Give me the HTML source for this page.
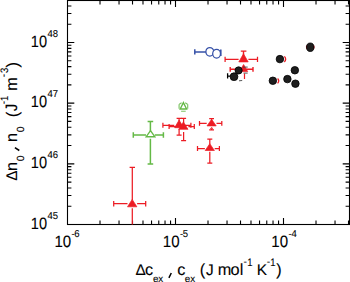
<!DOCTYPE html>
<html><head><meta charset="utf-8"><style>
html,body{margin:0;padding:0;background:#fff;width:350px;height:282px;overflow:hidden}
svg{display:block}
text{stroke:#000;stroke-width:0.1px;text-rendering:geometricPrecision}
</style></head><body><svg width="350" height="282" viewBox="0 0 350 282"><path d="M100.01 224.5v-3.9M100.01 0.5v3.9M119.03 224.5v-3.9M119.03 0.5v3.9M132.52 224.5v-3.9M132.52 0.5v3.9M142.99 224.5v-3.9M142.99 0.5v3.9M151.54 224.5v-3.9M151.54 0.5v3.9M158.77 224.5v-3.9M158.77 0.5v3.9M165.03 224.5v-3.9M165.03 0.5v3.9M170.56 224.5v-3.9M170.56 0.5v3.9M175.50 224.5v-6.5M175.50 0.5v6.5M208.01 224.5v-3.9M208.01 0.5v3.9M227.03 224.5v-3.9M227.03 0.5v3.9M240.52 224.5v-3.9M240.52 0.5v3.9M250.99 224.5v-3.9M250.99 0.5v3.9M259.54 224.5v-3.9M259.54 0.5v3.9M266.77 224.5v-3.9M266.77 0.5v3.9M273.03 224.5v-3.9M273.03 0.5v3.9M278.56 224.5v-3.9M278.56 0.5v3.9M283.50 224.5v-6.5M283.50 0.5v6.5M316.01 224.5v-3.9M316.01 0.5v3.9M335.03 224.5v-3.9M335.03 0.5v3.9M348.52 224.5v-3.9M348.52 0.5v3.9M67.5 206.24h3.9M349.5 206.24h-3.9M67.5 195.55h3.9M349.5 195.55h-3.9M67.5 187.97h3.9M349.5 187.97h-3.9M67.5 182.09h3.9M349.5 182.09h-3.9M67.5 177.29h3.9M349.5 177.29h-3.9M67.5 173.23h3.9M349.5 173.23h-3.9M67.5 169.71h3.9M349.5 169.71h-3.9M67.5 166.61h3.9M349.5 166.61h-3.9M67.5 163.83h6.8M349.5 163.83h-6.8M67.5 145.57h3.9M349.5 145.57h-3.9M67.5 134.88h3.9M349.5 134.88h-3.9M67.5 127.30h3.9M349.5 127.30h-3.9M67.5 121.42h3.9M349.5 121.42h-3.9M67.5 116.62h3.9M349.5 116.62h-3.9M67.5 112.56h3.9M349.5 112.56h-3.9M67.5 109.04h3.9M349.5 109.04h-3.9M67.5 105.94h3.9M349.5 105.94h-3.9M67.5 103.16h6.8M349.5 103.16h-6.8M67.5 84.90h3.9M349.5 84.90h-3.9M67.5 74.21h3.9M349.5 74.21h-3.9M67.5 66.63h3.9M349.5 66.63h-3.9M67.5 60.75h3.9M349.5 60.75h-3.9M67.5 55.95h3.9M349.5 55.95h-3.9M67.5 51.89h3.9M349.5 51.89h-3.9M67.5 48.37h3.9M349.5 48.37h-3.9M67.5 45.27h3.9M349.5 45.27h-3.9M67.5 42.49h6.8M349.5 42.49h-6.8M67.5 24.23h3.9M349.5 24.23h-3.9M67.5 13.54h3.9M349.5 13.54h-3.9M67.5 5.96h3.9M349.5 5.96h-3.9" stroke="#000" stroke-width="1.1" fill="none"/><rect x="67.5" y="0.5" width="282.0" height="224.0" stroke="#000" stroke-width="1.1" fill="none"/><clipPath id="c"><rect x="67.5" y="0.5" width="282.0" height="224.0"/></clipPath><g clip-path="url(#c)"><path d="M133.3 135.0H146.00M154.80 135.0H163.4M133.3 132.2v5.6M163.4 132.2v5.6M150.4 121.4V131M147.6 121.4h5.6M150.4 138.8V164.0M147.6 164.0h5.6" stroke="#64b946" stroke-width="1.5" fill="none"/><path d="M150.5 130.60L154.80 136.70L146.20 136.70Z" fill="#fff" stroke="#64b946" stroke-width="1.4"/><path d="M179.1 104.3V108.7M187.7 104.3V108.7M181.1 111.2H185.7M179.3 104.2L181.6 102.7M187.5 104.2L185.2 102.7" stroke="#64b946" stroke-width="1.15" fill="none" opacity="0.85"/><path d="M183.4 102.60L186.60 109.00L180.20 109.00Z" fill="#fff" stroke="#64b946" stroke-width="1.35"/><path d="M113.7 203.7H127.50M137.10 203.7H145.7M113.7 201.0v5.4M145.7 201.0v5.4M132.3 167.4V200M129.60000000000002 167.4h5.4M132.3 208.3V232M129.60000000000002 232h5.4" stroke="#ec1c24" stroke-width="1.25" fill="none"/><path d="M132.2 199.40L136.90 206.80L127.50 206.80Z" fill="#ec1c24" stroke="#ec1c24" stroke-width="0.7"/><path d="M162.9 125.3H174.30M183.90 125.3H190.9M162.9 122.8v5.0M190.9 122.8v5.0M179.1 118.4V121M176.6 118.4h5.0M179.1 128.9V135.0M176.6 135.0h5.0" stroke="#ec1c24" stroke-width="1.25" fill="none"/><path d="M169.1 126.6H178.80M188.40 126.6H194.3M169.1 124.1v5.0M194.3 124.1v5.0M183.6 118.4V123M181.1 118.4h5.0M183.6 132V140.5M181.1 140.5h5.0" stroke="#ec1c24" stroke-width="1.25" fill="none"/><path d="M179.1 120.10L183.60 127.70L174.60 127.70Z" fill="#ec1c24" stroke="#ec1c24" stroke-width="0.7"/><path d="M183.4 121.90L188.00 129.30L178.80 129.30Z" fill="#ec1c24" stroke="#ec1c24" stroke-width="0.7"/><path d="M199.5 123.4H206.70M216.50 123.4H221.8M199.5 121.0v4.8M221.8 121.0v4.8M211.6 118.5V120M209.2 118.5h4.8M211.6 128.2V129.9M209.2 129.9h4.8" stroke="#ec1c24" stroke-width="1.25" fill="none"/><path d="M210.3 128.6L211.6 127.6L212.9 128.6" stroke="#ec1c24" stroke-width="1" fill="none"/><path d="M211.6 119.30L216.20 125.90L207.00 125.90Z" fill="#ec1c24" stroke="#ec1c24" stroke-width="0.7"/><path d="M197.5 148.5H204.90M214.70 148.5H219.4M197.5 146.0v5.0M219.4 146.0v5.0M209.8 139.1V144.5M207.3 139.1h5.0M209.8 151.8V163.0M207.3 163.0h5.0" stroke="#ec1c24" stroke-width="1.25" fill="none"/><path d="M209.8 143.70L214.40 150.50L205.20 150.50Z" fill="#ec1c24" stroke="#ec1c24" stroke-width="0.7"/><path d="M194.8 51.9H209M194.8 49.3v5.2M209 49.3v5.2" stroke="#3651a8" stroke-width="1.5" fill="none"/><ellipse cx="209.8" cy="51.8" rx="3.9" ry="4.3" fill="#fff" stroke="#3651a8" stroke-width="1.25"/><ellipse cx="216.6" cy="53.75" rx="3.9" ry="4.3" fill="#fff" stroke="#3651a8" stroke-width="1.25"/><path d="M220.8 49.4v6.7" stroke="#3651a8" stroke-width="1.6"/><path d="M225.1 59.4H238.60M248.40 59.4H257.5M225.1 56.699999999999996v5.4M257.5 56.699999999999996v5.4" stroke="#ec1c24" stroke-width="1.25" fill="none"/><path d="M240.8 51.1h5.6M243.5 51.1V56" stroke="#ec1c24" stroke-width="1.4"/><path d="M243.5 53.80L248.20 61.90L238.80 61.90Z" fill="#ec1c24" stroke="#ec1c24" stroke-width="0.7"/><path d="M230.2 69.3H253.0M230.2 66.89999999999999v4.8M253.0 66.89999999999999v4.8" stroke="#ec1c24" stroke-width="1.4" fill="none"/><path d="M244.5 73.5V79" stroke="#ec1c24" stroke-width="1.2"/><path d="M243.6 64.50L247.70 71.60L239.50 71.60Z" fill="#ec1c24" stroke="#ec1c24" stroke-width="0.7"/><path d="M243 67.1h4.7M243.5 73.1h4.2M239 80.8l3.2-0.3" stroke="#444" stroke-width="0.9"/><path d="M227.6 73.3v5.3M227.6 76.1h3" stroke="#000" stroke-width="1.3"/><circle cx="234.0" cy="76.7" r="3.9" fill="#1e1e1e" stroke="#000" stroke-width="0.8"/><circle cx="238.6" cy="70.4" r="3.6" fill="#1e1e1e" stroke="#000" stroke-width="0.8"/><ellipse cx="310.25" cy="47.1" rx="4.4" ry="2.9" fill="#ec1c24"/><path d="M284.4 56.4Q286.9 59.1 284.4 62M277.6 78.5Q279.9 80.9 277.6 83.4" stroke="#ec1c24" stroke-width="1.3" fill="none"/><ellipse cx="310.25" cy="47.25" rx="3.7" ry="4.25" fill="#1e1e1e" stroke="#000" stroke-width="0.8"/><circle cx="279.9" cy="59.1" r="3.75" fill="#1e1e1e" stroke="#000" stroke-width="0.8"/><circle cx="294.85" cy="70.25" r="3.75" fill="#1e1e1e" stroke="#000" stroke-width="0.8"/><circle cx="272.85" cy="80.75" r="3.75" fill="#1e1e1e" stroke="#000" stroke-width="0.8"/><circle cx="287.4" cy="79.1" r="3.75" fill="#1e1e1e" stroke="#000" stroke-width="0.8"/><circle cx="295.4" cy="83.7" r="3.75" fill="#1e1e1e" stroke="#000" stroke-width="0.8"/></g><text transform="translate(30.79 46.59) scale(0.89 1)" font-family="Liberation Sans, sans-serif" font-size="16.4" fill="#000">10</text><text transform="translate(47.38 36.59) scale(0.95 1)" font-family="Liberation Sans, sans-serif" font-size="10.0" fill="#000">48</text><text transform="translate(30.79 107.26) scale(0.89 1)" font-family="Liberation Sans, sans-serif" font-size="16.4" fill="#000">10</text><text transform="translate(47.38 97.26) scale(0.95 1)" font-family="Liberation Sans, sans-serif" font-size="10.0" fill="#000">47</text><text transform="translate(30.79 167.93) scale(0.89 1)" font-family="Liberation Sans, sans-serif" font-size="16.4" fill="#000">10</text><text transform="translate(47.38 157.93) scale(0.95 1)" font-family="Liberation Sans, sans-serif" font-size="10.0" fill="#000">46</text><text transform="translate(30.79 228.60) scale(0.89 1)" font-family="Liberation Sans, sans-serif" font-size="16.4" fill="#000">10</text><text transform="translate(47.38 218.60) scale(0.95 1)" font-family="Liberation Sans, sans-serif" font-size="10.0" fill="#000">45</text><text transform="translate(54.45 247.10) scale(0.92 1)" font-family="Liberation Sans, sans-serif" font-size="16.4" fill="#000">10</text><text transform="translate(71.58 237.10) scale(0.95 1)" font-family="Liberation Sans, sans-serif" font-size="10.0" fill="#000">-</text><text transform="translate(74.32 237.40) scale(0.95 1)" font-family="Liberation Sans, sans-serif" font-size="10.0" fill="#000">6</text><text transform="translate(162.85 247.10) scale(0.92 1)" font-family="Liberation Sans, sans-serif" font-size="16.4" fill="#000">10</text><text transform="translate(179.98 237.10) scale(0.95 1)" font-family="Liberation Sans, sans-serif" font-size="10.0" fill="#000">-</text><text transform="translate(182.82 237.40) scale(0.95 1)" font-family="Liberation Sans, sans-serif" font-size="10.0" fill="#000">5</text><text transform="translate(271.25 247.10) scale(0.92 1)" font-family="Liberation Sans, sans-serif" font-size="16.4" fill="#000">10</text><text transform="translate(288.38 237.10) scale(0.95 1)" font-family="Liberation Sans, sans-serif" font-size="10.0" fill="#000">-</text><text transform="translate(291.38 237.40) scale(0.95 1)" font-family="Liberation Sans, sans-serif" font-size="10.0" fill="#000">4</text><text x="135.44" y="274.50" font-family="Liberation Sans, sans-serif" font-size="15.4" fill="#000">Δ</text><text x="145.11" y="274.50" font-family="Liberation Sans, sans-serif" font-size="16.3" fill="#000">c</text><text x="152.88" y="282.40" font-family="Liberation Sans, sans-serif" font-size="9.9" fill="#000">ex</text><text x="177.21" y="274.50" font-family="Liberation Sans, sans-serif" font-size="16.3" fill="#000">c</text><text x="184.68" y="282.40" font-family="Liberation Sans, sans-serif" font-size="9.9" fill="#000">ex</text><text x="199.69" y="275.10" font-family="Liberation Sans, sans-serif" font-size="16.3" fill="#000">(</text><text x="206.06" y="274.50" font-family="Liberation Sans, sans-serif" font-size="15.4" fill="#000">J</text><text x="217.72" y="274.50" font-family="Liberation Sans, sans-serif" font-size="16.3" fill="#000">m</text><text x="230.52" y="274.50" font-family="Liberation Sans, sans-serif" font-size="16.3" fill="#000">o</text><text x="239.80" y="274.50" font-family="Liberation Sans, sans-serif" font-size="16.3" fill="#000">l</text><text transform="translate(243.54 265.20) scale(0.95 1)" font-family="Liberation Sans, sans-serif" font-size="10.8" fill="#000">-</text><text transform="translate(247.28 265.90) scale(0.88 1)" font-family="Liberation Sans, sans-serif" font-size="10.8" fill="#000">1</text><text x="256.74" y="274.50" font-family="Liberation Sans, sans-serif" font-size="15.4" fill="#000">K</text><text transform="translate(266.74 265.20) scale(0.95 1)" font-family="Liberation Sans, sans-serif" font-size="10.8" fill="#000">-</text><text transform="translate(270.28 265.90) scale(0.88 1)" font-family="Liberation Sans, sans-serif" font-size="10.8" fill="#000">1</text><text x="276.30" y="275.10" font-family="Liberation Sans, sans-serif" font-size="16.3" fill="#000">)</text><path d="M171.3 273L168.9 277.8M14.9 147.6L19.3 150.5" stroke="#000" stroke-width="1.5"/><text transform="translate(16.70 0) rotate(-90) translate(-180.86 0) scale(1 1)" font-family="Liberation Sans, sans-serif" font-size="15.4" fill="#000">Δ</text><text transform="translate(16.70 0) rotate(-90) translate(-170.88 0) scale(1 1)" font-family="Liberation Sans, sans-serif" font-size="16.3" fill="#000">n</text><text transform="translate(23.60 0) rotate(-90) translate(-161.31 0) scale(1 1)" font-family="Liberation Sans, sans-serif" font-size="10.4" fill="#000">0</text><text transform="translate(16.70 0) rotate(-90) translate(-141.98 0) scale(1 1)" font-family="Liberation Sans, sans-serif" font-size="16.3" fill="#000">n</text><text transform="translate(23.60 0) rotate(-90) translate(-132.31 0) scale(1 1)" font-family="Liberation Sans, sans-serif" font-size="10.4" fill="#000">0</text><text transform="translate(17.50 0) rotate(-90) translate(-117.24 0) scale(1 1)" font-family="Liberation Sans, sans-serif" font-size="16.8" fill="#000">(</text><text transform="translate(16.70 0) rotate(-90) translate(-111.34 0) scale(0.92 1)" font-family="Liberation Sans, sans-serif" font-size="16.6" fill="#000">J</text><text transform="translate(6.70 0) rotate(-90) translate(-104.26 0) scale(0.95 1)" font-family="Liberation Sans, sans-serif" font-size="10.8" fill="#000">-</text><text transform="translate(7.70 0) rotate(-90) translate(-100.92 0) scale(0.88 1)" font-family="Liberation Sans, sans-serif" font-size="10.8" fill="#000">1</text><text transform="translate(16.70 0) rotate(-90) translate(-90.68 0) scale(1 1)" font-family="Liberation Sans, sans-serif" font-size="16.3" fill="#000">m</text><text transform="translate(6.70 0) rotate(-90) translate(-77.16 0) scale(0.95 1)" font-family="Liberation Sans, sans-serif" font-size="10.8" fill="#000">-</text><text transform="translate(7.70 0) rotate(-90) translate(-72.96 0) scale(0.88 1)" font-family="Liberation Sans, sans-serif" font-size="10.8" fill="#000">3</text><text transform="translate(17.50 0) rotate(-90) translate(-67.50 0) scale(1 1)" font-family="Liberation Sans, sans-serif" font-size="16.8" fill="#000">)</text></svg></body></html>
